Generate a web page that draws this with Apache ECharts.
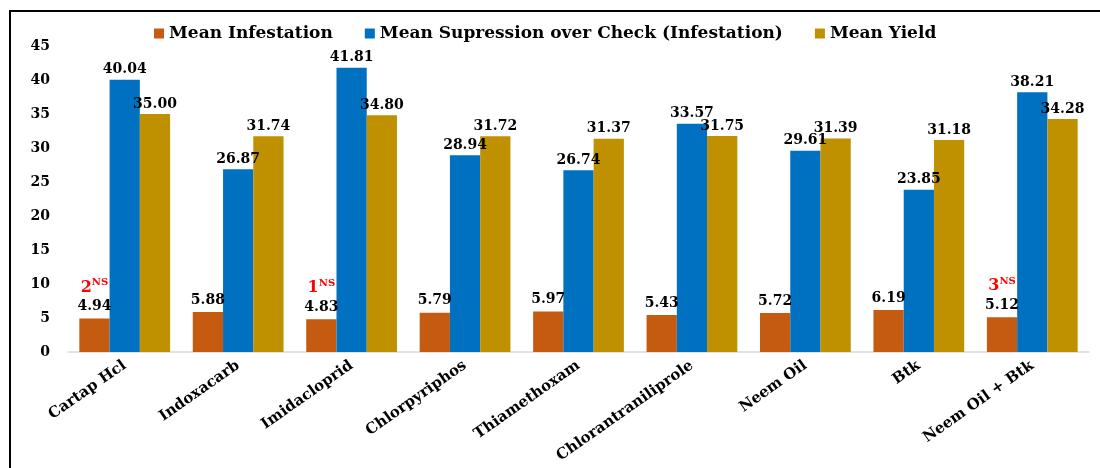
<!DOCTYPE html>
<html>
<head>
<meta charset="utf-8">
<script src="https://cdn.jsdelivr.net/npm/echarts@6/dist/echarts.min.js"></script>
<style>
  html, body { margin: 0; padding: 0; background: #fff; }
  #container { width: 1100px; height: 468px; }
</style>
</head>
<body>
<div id="container"></div>
<script>
var categories = ['Cartap Hcl', 'Indoxacarb', 'Imidacloprid', 'Chlorpyriphos', 'Thiamethoxam',
                  'Chlorantraniliprole', 'Neem Oil', 'Btk', 'Neem Oil + Btk'];
var infestation = [4.94, 5.88, 4.83, 5.79, 5.97, 5.43, 5.72, 6.19, 5.12];
var suppression = [40.04, 26.87, 41.81, 28.94, 26.74, 33.57, 29.61, 23.85, 38.21];
var yieldVals = [35.00, 31.74, 34.80, 31.72, 31.37, 31.75, 31.39, 31.18, 34.28];
// rank marks shown above some infestation bars
var ranks = ['2', '', '1', '', '', '', '', '', '3'];

var serif = '"DejaVu Serif", "Liberation Serif", serif';

var dom = document.getElementById('container');
var myChart = echarts.init(dom);

var labelBase = {
    show: true,
    position: 'top',
    distance: 3,
    color: '#000',
    fontFamily: serif,
    fontWeight: 'bold',
    fontSize: 14,
    formatter: function (p) { return p.value.toFixed(2); }
};

var option = {
    animation: false,
    color: ['#C55A11', '#0070C0', '#BF9000'],
    graphic: [{
        type: 'rect',
        shape: { x: 10, y: 11, width: 1200, height: 600 },
        style: { fill: 'none', stroke: '#000', lineWidth: 2 },
        silent: true
    }],
    legend: {
        top: 20,
        left: 149,
        icon: 'rect',
        itemWidth: 10,
        itemHeight: 10,
        itemGap: 32,
        textStyle: { color: '#000', fontFamily: serif, fontWeight: 'bold', fontSize: 17 },
        data: ['Mean Infestation', 'Mean Supression over Check (Infestation)', 'Mean Yield']
    },
    grid: { left: 68, right: 11, top: 46, bottom: 116, outerBoundsMode: 'none' },
    xAxis: {
        type: 'category',
        data: categories,
        axisLine: { lineStyle: { color: '#d9d9d9', width: 1.5 } },
        axisTick: { show: false },
        axisLabel: {
            rotate: 35,
            interval: 0,
            margin: 12,
            color: '#000',
            fontFamily: serif,
            fontWeight: 'bold',
            fontSize: 15
        }
    },
    yAxis: {
        type: 'value',
        min: 0,
        max: 45,
        interval: 5,
        splitLine: { show: false },
        axisLine: { show: false },
        axisTick: { show: false },
        axisLabel: {
            margin: 18,
            color: '#000',
            fontFamily: serif,
            fontWeight: 'bold',
            fontSize: 14
        }
    },
    series: [{
        name: 'Mean Infestation',
        type: 'bar',
        data: infestation,
        barGap: '0%',
        barCategoryGap: '20%',
        label: Object.assign({}, labelBase, {
            formatter: function (p) {
                var r = ranks[p.dataIndex];
                var v = '{v|' + p.value.toFixed(2) + '}';
                return r ? '{r|' + r + '}{s|NS}\n' + v : v;
            },
            rich: {
                v: { color: '#000', fontFamily: serif, fontWeight: 'bold', fontSize: 14, lineHeight: 18 },
                r: { color: '#FF0000', fontFamily: serif, fontWeight: 'bold', fontSize: 16, lineHeight: 20 },
                s: { color: '#FF0000', fontFamily: serif, fontWeight: 'bold', fontSize: 10, verticalAlign: 'top', lineHeight: 20 }
            }
        })
    }, {
        name: 'Mean Supression over Check (Infestation)',
        type: 'bar',
        data: suppression,
        label: labelBase
    }, {
        name: 'Mean Yield',
        type: 'bar',
        data: yieldVals,
        label: labelBase
    }]
};

if (option && typeof option === 'object') {
    myChart.setOption(option, true);
}
</script>
</body>
</html>
